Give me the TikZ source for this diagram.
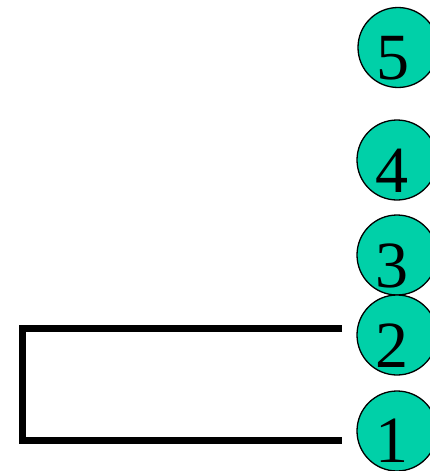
\documentclass[tikz,border=0pt]{standalone}
\usepackage{fontspec}
\setmainfont{Liberation Serif}
\definecolor{ballfill}{RGB}{0,208,168}
\tikzset{
  ball/.style={circle,draw=black,line width=1.3pt,fill=ballfill,minimum size=80pt,inner sep=0pt},
  num/.style={anchor=base,font=\fontsize{66}{66}\selectfont,inner sep=0pt},
  bracket/.style={line width=7pt,line join=miter}
}
\begin{document}
\begin{tikzpicture}[x=1pt,y=-1pt]
\useasboundingbox (0,0) rectangle (429,471);
\node[ball] (c5) at (398,47.5) {};
\node[ball] (c4) at (397,160) {};
\node[ball] (c3) at (397,255) {};
\node[ball] (c2) at (397,335) {};
\node[ball] (c1) at (397,431) {};
\node[num] (n5) at ([xshift=-5pt,yshift=-32pt]c5.center) {5};
\node[num] (n4) at ([xshift=-5pt,yshift=-32pt]c4.center) {4};
\node[num] (n3) at ([xshift=-5pt,yshift=-32pt]c3.center) {3};
\node[num] (n2) at ([xshift=-5pt,yshift=-32pt]c2.center) {2};
\node[num] (n1) at ([xshift=-5pt,yshift=-31pt]c1.center) {1};
\coordinate (a) at (342,328.5);
\coordinate (b) at (22,328.5);
\coordinate (c) at (22,440.5);
\coordinate (d) at (342,440.5);
\draw[bracket] (a) -- (b) -- (c) -- (d);
\end{tikzpicture}
\end{document}
